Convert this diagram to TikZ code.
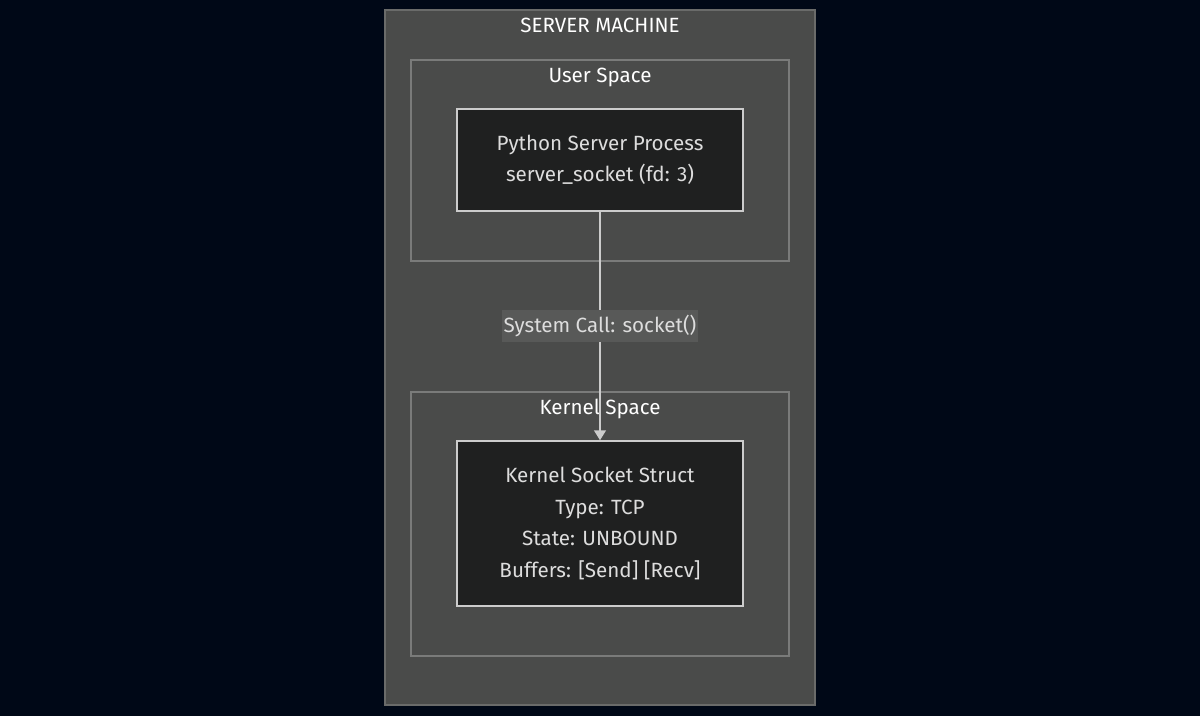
\documentclass[tikz,border=0pt]{standalone}
\usepackage{fontspec}
\setmainfont{Fira Sans}
\usetikzlibrary{arrows.meta,positioning}
\definecolor{pagebg}{HTML}{000817}
\definecolor{machinefill}{HTML}{4A4B4A}
\definecolor{machineline}{HTML}{6A6B6A}
\definecolor{spaceline}{HTML}{7A7B7A}
\definecolor{procfill}{HTML}{1F2020}
\definecolor{procline}{HTML}{CCCCCC}
\definecolor{proctext}{HTML}{DDDDDD}
\definecolor{labelfill}{HTML}{585958}
\newcommand{\diagfont}{\fontsize{20.6}{31.5}\selectfont}

\begin{document}
\begin{tikzpicture}[x=1pt, y=-1pt,
  machine/.style={draw=machineline, fill=machinefill, line width=1.5pt, minimum width=430pt, minimum height=695pt, inner sep=0pt},
  space/.style={draw=spaceline, fill=machinefill, line width=1.5pt, minimum width=378pt, inner sep=0pt},
  proc/.style={draw=procline, fill=procfill, line width=1.5pt, minimum width=286pt, inner sep=0pt, align=center, text=proctext, font=\diagfont},
  title/.style={text=white, font=\diagfont},
  arrow/.style={-{Triangle[length=10pt, width=12pt]}, line width=1.5pt, draw=procline, fill=procline},
  callbox/.style={fill=labelfill, text=proctext, font=\diagfont, inner xsep=2pt, inner ysep=5pt}
]

\fill[pagebg] (0,0) rectangle (1200,716);
\useasboundingbox (0,0) rectangle (1200,716);

\node[machine] (server) at (600,357.5) {};
\node[title] (servertitle) at (600,25) {SERVER MACHINE};

\node[space, minimum height=201pt] (user) at (600,160.5) {};
\node[title] (usertitle) at (600,77) {User Space};

\node[space, minimum height=264pt] (kernel) at (600,524) {};
\node[title] (kerneltitle) at (600,409) {Kernel Space};

\node[proc, minimum height=102pt] (pyproc) at (600,160) {Python Server Process\\server\_socket (fd: 3)};
\node[proc, minimum height=165pt] (ksock) at (600,523.5) {Kernel Socket Struct\\Type: TCP\\State: UNBOUND\\Buffers: [Send] [Recv]};

\draw[arrow] (pyproc) -- (ksock) node[midway, callbox] (syscall) {System Call: socket()};

\end{tikzpicture}
\end{document}
